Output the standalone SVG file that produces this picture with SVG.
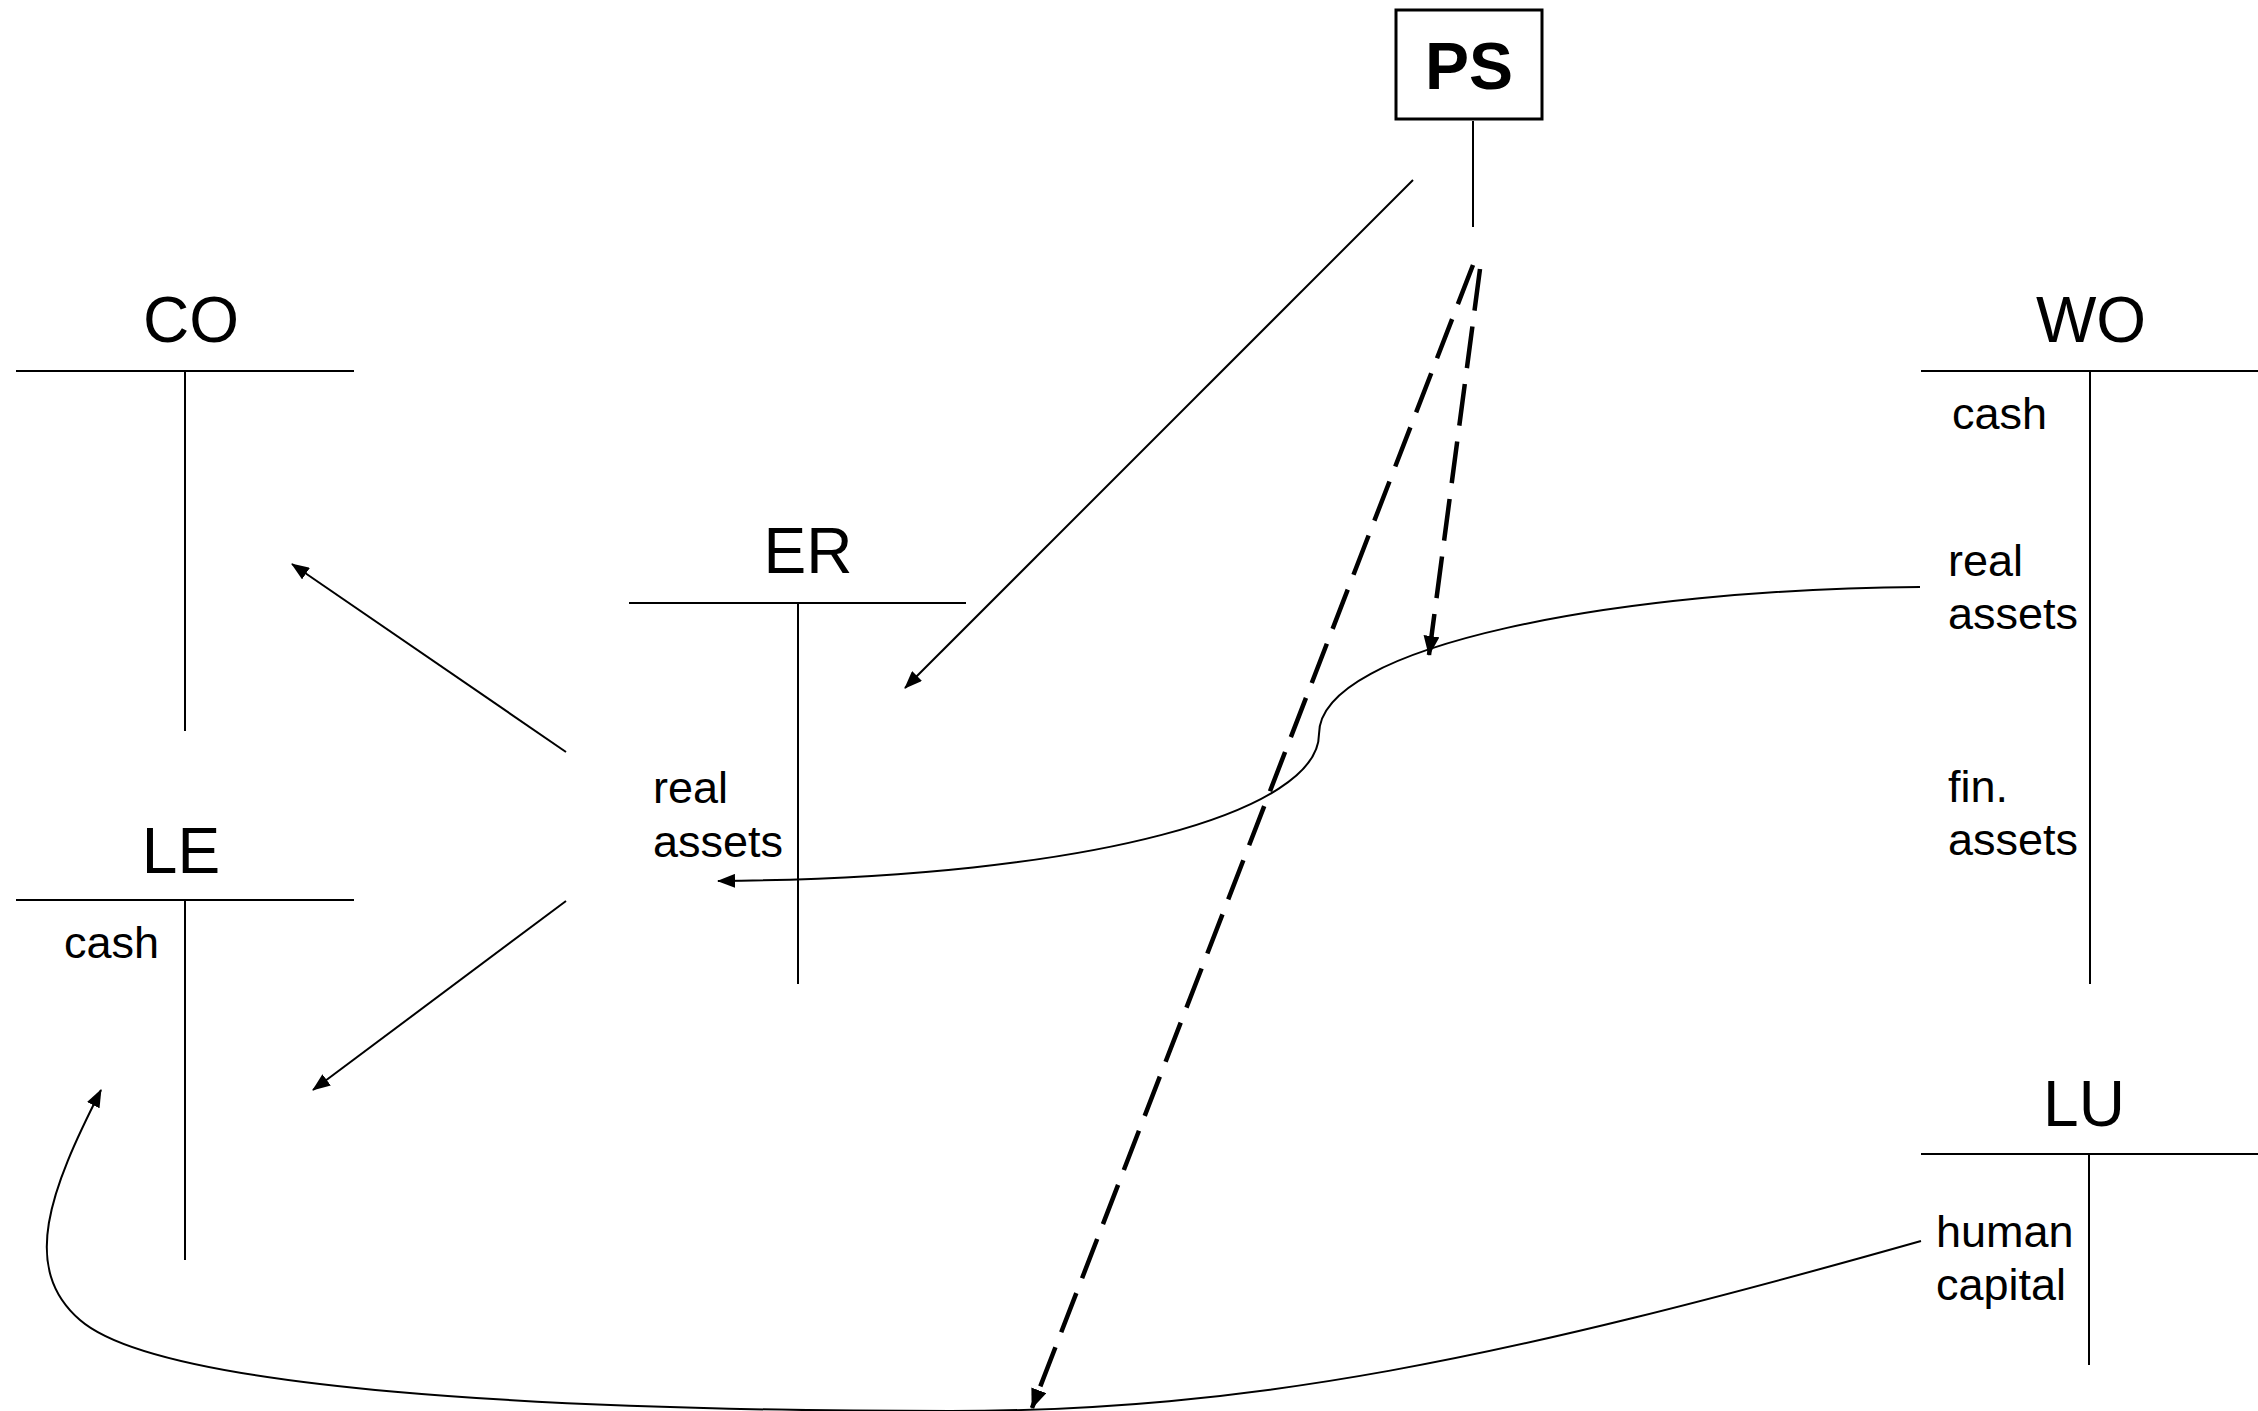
<svg xmlns="http://www.w3.org/2000/svg" width="2258" height="1411" viewBox="0 0 2258 1411">
<style>
.t{stroke:#000;stroke-width:2;fill:none}
.h{font-family:"Liberation Sans",Arial,sans-serif;font-size:64px;fill:#000;text-anchor:middle}
.l{font-family:"Liberation Sans",Arial,sans-serif;font-size:45px;fill:#000}
.c{stroke:#000;stroke-width:2;fill:none}
.d{stroke:#000;stroke-width:4.5;fill:none;stroke-dasharray:42 16}
</style>
<defs>
<marker id="a" markerUnits="userSpaceOnUse" markerWidth="18" markerHeight="14" refX="17" refY="7" orient="auto">
<path d="M0,0 L18,7 L0,14 z" fill="#000"/>
</marker>
<marker id="b" markerUnits="userSpaceOnUse" markerWidth="20" markerHeight="16" refX="19" refY="8" orient="auto">
<path d="M0,0 L20,8 L0,16 z" fill="#000"/>
</marker>
</defs>
<rect width="2258" height="1411" fill="#fff"/>
<g id="PS">
<rect x="1396" y="10" width="146" height="109" fill="#fff" stroke="#000" stroke-width="3"/>
<text x="1469" y="89" font-family="Liberation Sans,Arial,sans-serif" font-size="66" font-weight="bold" text-anchor="middle">PS</text>
</g>
<g id="CO">
<text class="h" x="191" y="342">CO</text>
<line class="t" x1="16" y1="371" x2="354" y2="371"/>
<line class="t" x1="185" y1="371" x2="185" y2="731"/>
</g>
<g id="LE">
<text class="h" x="181" y="873">LE</text>
<line class="t" x1="16" y1="900" x2="354" y2="900"/>
<line class="t" x1="185" y1="900" x2="185" y2="1260"/>
<text class="l" x="64" y="958">cash</text>
</g>
<g id="ER">
<text class="h" x="808" y="573">ER</text>
<line class="t" x1="629" y1="603" x2="966" y2="603"/>
<line class="t" x1="798" y1="603" x2="798" y2="984"/>
<text class="l" x="653" y="803">real</text>
<text class="l" x="653" y="857">assets</text>
</g>
<g id="WO">
<text class="h" x="2091" y="342">WO</text>
<line class="t" x1="1921" y1="371" x2="2258" y2="371"/>
<line class="t" x1="2090" y1="371" x2="2090" y2="984"/>
<text class="l" x="1952" y="429">cash</text>
<text class="l" x="1948" y="576">real</text>
<text class="l" x="1948" y="629">assets</text>
<text class="l" x="1948" y="802">fin.</text>
<text class="l" x="1948" y="855">assets</text>
</g>
<g id="LU">
<text class="h" x="2084" y="1126">LU</text>
<line class="t" x1="1921" y1="1154" x2="2258" y2="1154"/>
<line class="t" x1="2089" y1="1154" x2="2089" y2="1365"/>
<text class="l" x="1936" y="1247">human</text>
<text class="l" x="1936" y="1300">capital</text>
</g>
<g id="connectors">
<line class="c" x1="1473" y1="121" x2="1473" y2="227"/>
<line class="c" x1="1413" y1="180" x2="905" y2="688" marker-end="url(#a)"/>
<line class="c" x1="566" y1="752" x2="292" y2="564" marker-end="url(#a)"/>
<line class="c" x1="566" y1="901" x2="313" y2="1090" marker-end="url(#a)"/>
<path class="c" d="M1920,587 C1620,589 1319,645 1319,734 C1319,810 1100,878 718,881" marker-end="url(#a)"/>
<path class="c" d="M1921,1241 C1500,1360 1250,1411 950,1411 C550,1411 160,1390 80,1320 C20,1268 50,1190 101,1090" marker-end="url(#a)"/>
<line class="d" x1="1480" y1="269" x2="1429" y2="655" marker-end="url(#b)"/>
<line class="d" x1="1473" y1="265" x2="1032" y2="1408" marker-end="url(#b)"/>
</g>
</svg>
